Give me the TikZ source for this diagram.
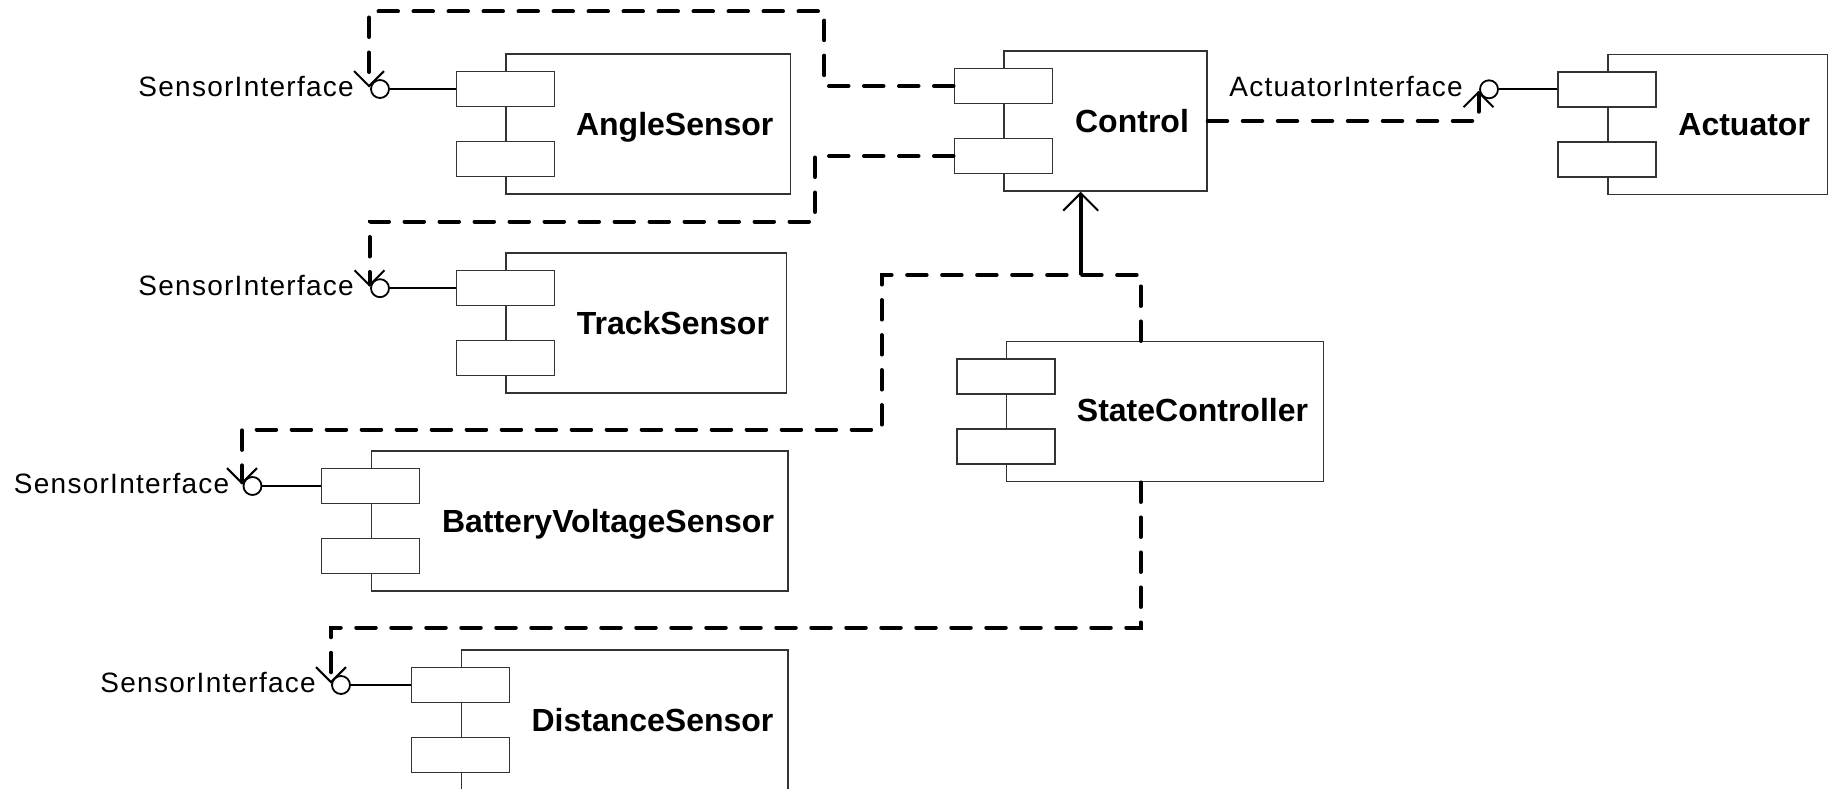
\documentclass[tikz,border=0pt]{standalone}
\usepackage{fontspec}
\setmainfont{Liberation Sans}
\newfontfamily\ifont[LetterSpace=4.5]{Liberation Sans}
\usetikzlibrary{arrows.meta}
\tikzset{
  comp/.style={draw=black!80, line width=1.5pt, fill=white, inner sep=0pt, minimum height=140pt},
  port/.style={draw=black!80, line width=1.5pt, fill=white, inner sep=0pt, minimum width=98pt, minimum height=35pt},
  cname/.style={font=\fontsize{32pt}{36pt}\selectfont\bfseries, anchor=base, inner sep=0pt},
  iname/.style={font=\ifont\fontsize{28pt}{32pt}\selectfont, anchor=base east, inner sep=0pt},
  ball/.style={draw, circle, line width=1.8pt, minimum size=18pt, inner sep=0pt, fill=white},
  link/.style={line width=1.8pt},
  dep/.style={line width=4pt, dash pattern=on 19.5pt off 15.5pt, line cap=round},
  reqtip/.style={-{Straight Barb[length=15pt, width=30pt, line width'=2pt]}},
  assoc/.style={line width=4pt, -{Straight Barb[length=17.5pt, width=35pt, line width'=2pt]}}
}
\begin{document}
\begin{tikzpicture}[x=1pt, y=-1pt]
\useasboundingbox (0,0) rectangle (1831,789);
\clip (0,0) rectangle (1831,789);

% components
\node[comp, minimum width=284.5pt] (as) at (648.25,124) {};
\node[comp, minimum width=203pt] (ctl) at (1105.5,121) {};
\node[comp, minimum width=219.7pt] (act) at (1717.65,124.3) {};
\node[comp, minimum width=280.4pt] (ts) at (646.4,323.2) {};
\node[comp, minimum width=416.7pt] (bv) at (579.65,521) {};
\node[comp, minimum width=326.7pt] (ds) at (624.65,720) {};
\node[comp, minimum width=316.6pt] (sc) at (1165,411.7) {};

% ports
\foreach \c in {as,ctl,act,ts,bv,ds,sc}{
  \node[port] (\c-p1) at ([yshift=35pt]\c.west) {};
  \node[port] (\c-p2) at ([yshift=-35pt]\c.west) {};
}

% names
\node[cname] (as-n) at (674.75,135.5) {AngleSensor};
\node[cname] (ctl-n) at (1132,132.5) {Control};
\node[cname] (act-n) at (1744.2,135.8) {Actuator};
\node[cname] (ts-n) at (672.9,334.7) {TrackSensor};
\node[cname] (bv-n) at (608,532.5) {BatteryVoltageSensor};
\node[cname] (ds-n) at (652.5,731.5) {DistanceSensor};
\node[cname] (sc-n) at (1192.5,421) {StateController};

% provided interfaces (balls)
\node[ball] (si1) at (380,89) {};
\node[ball] (si2) at (380,288.2) {};
\node[ball] (si3) at (252.5,486) {};
\node[ball] (si4) at (341,685) {};
\node[ball] (ai) at (1489,89.3) {};

\draw[link] (si1.east) -- (as-p1.west);
\draw[link] (si2.east) -- (ts-p1.west);
\draw[link] (si3.east) -- (bv-p1.west);
\draw[link] (si4.east) -- (ds-p1.west);
\draw[link] (ai.east) -- (act-p1.west);

\node[iname] (si1-l) at ([xshift=-26pt,yshift=-7.5pt]si1.center) {SensorInterface};
\node[iname] (si2-l) at ([xshift=-26pt,yshift=-7.5pt]si2.center) {SensorInterface};
\node[iname] (si3-l) at ([xshift=-23pt,yshift=-7.5pt]si3.center) {SensorInterface};
\node[iname] (si4-l) at ([xshift=-25pt,yshift=-7.5pt]si4.center) {SensorInterface};
\node[iname] (ai-l) at ([xshift=-26pt,yshift=-7.5pt]ai.center) {ActuatorInterface};

% tips of required-interface arrows
\coordinate (t1) at ([xshift=-11pt,yshift=1.5pt]si1.center);
\coordinate (t2) at ([xshift=-10.5pt,yshift=1.5pt]si2.center);
\coordinate (t3) at ([xshift=-10.5pt,yshift=1.5pt]si3.center);
\coordinate (t4) at ([xshift=-10pt,yshift=1.5pt]si4.center);
\coordinate (t5) at ([xshift=-10.5pt,yshift=-1.5pt]ai.center);

% routing helpers
\coordinate (d1) at (824.4,11.5);
\coordinate (d2) at (815,221.5);
\coordinate (d3a) at (881.7,275);
\coordinate (y3) at (0,429.5);
\coordinate (d3b) at (t3 |- y3);
\coordinate (y4) at (0,627.5);
\coordinate (d4) at (t4 |- y4);
\coordinate (sct) at ([xshift=-24.3pt]sc.north);
\coordinate (scb) at ([xshift=-24.3pt]sc.south);
\coordinate (j1) at (1080.7,275);

% dependencies
\draw[dep, reqtip] (ctl-p1.west) -| (d1) -| (t1);
\draw[dep, reqtip] (ctl-p2.west) -| (d2) -| (t2);
\draw[dep, reqtip] (sct) |- (d3a) |- (d3b) -- (t3);
\draw[dep, reqtip] (scb) |- (d4) -- (t4);
\draw[dep, reqtip] (ctl.east) -| (t5);

% association to Control
\draw[assoc] (j1) -- (j1 |- ctl.south);
\end{tikzpicture}
\end{document}
